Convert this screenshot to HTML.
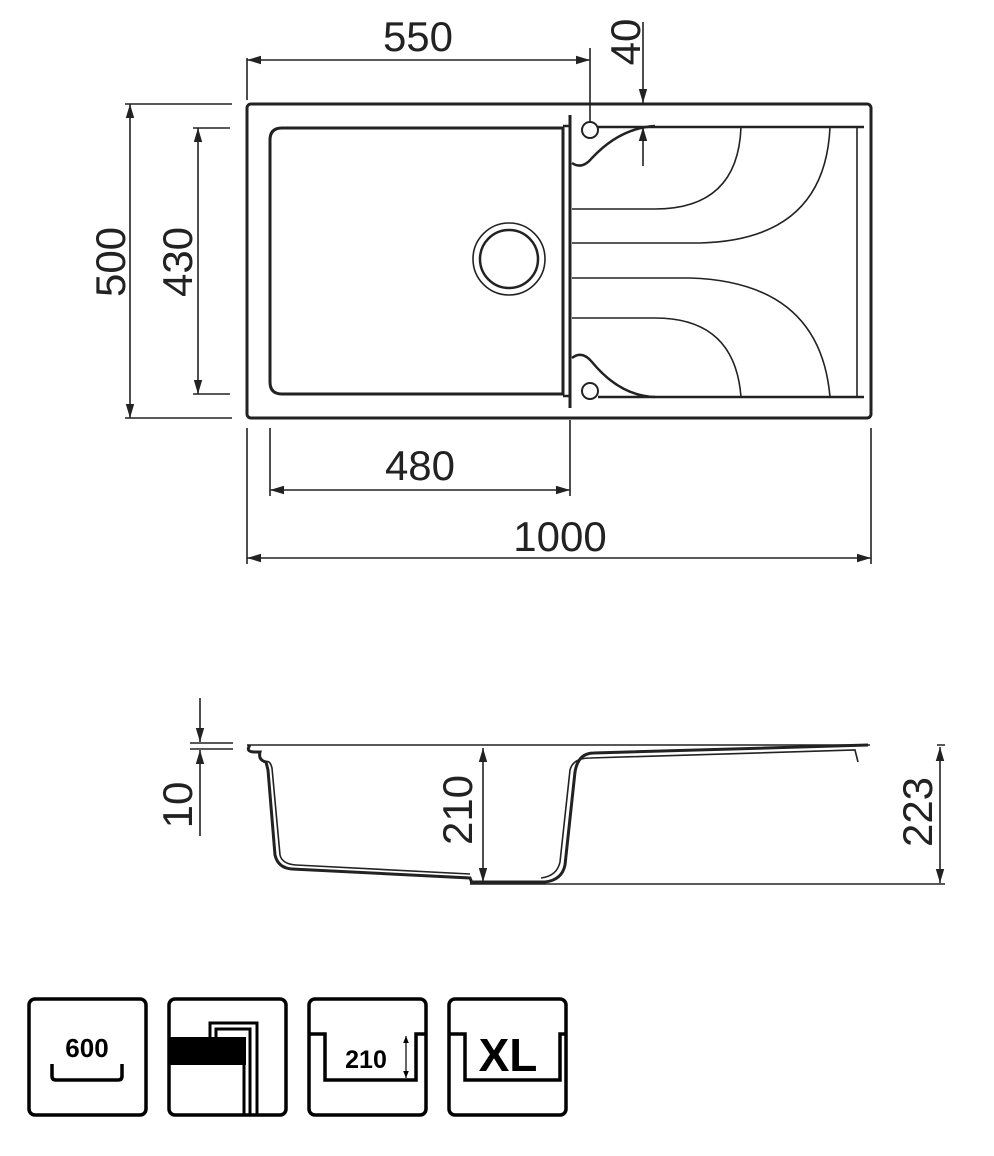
<!DOCTYPE html>
<html><head><style>body{margin:0;background:#fff}svg{display:block}</style></head><body>
<svg width="994" height="1156" viewBox="0 0 994 1156" xmlns="http://www.w3.org/2000/svg" font-family="Liberation Sans, sans-serif">
<defs>
<marker id="a" viewBox="0 0 10 10" refX="10" refY="5" markerWidth="14" markerHeight="14" markerUnits="userSpaceOnUse" orient="auto-start-reverse"><path d="M0,2 L10,5 L0,8z" fill="#222"/></marker>
<marker id="b" viewBox="0 0 10 10" refX="10" refY="5" markerWidth="7" markerHeight="7" markerUnits="userSpaceOnUse" orient="auto-start-reverse"><path d="M0,1 L10,5 L0,9z" fill="#000"/></marker>
</defs>
<g stroke="#222" fill="none" stroke-width="1.6">
<rect x="247" y="104" width="624" height="314" rx="4" stroke-width="3"/>
<path d="M282,128 H563 V394 H282 Q270,394 270,382 V140 Q270,128 282,128Z" stroke-width="3"/>
<line x1="570" y1="115" x2="570" y2="408" stroke-width="3"/>
<circle cx="509" cy="259" r="36"/><circle cx="509" cy="259" r="29" stroke-width="2.5"/>
<circle cx="590" cy="130" r="8" stroke-width="2"/><circle cx="590" cy="391" r="8" stroke-width="2"/>
<path d="M570,126 H563 M598,127 H864" stroke-width="2.5"/>
<path d="M570,396 H563 M598,397 H864" stroke-width="2.5"/>
<path d="M572,163 Q582,170 592,158 Q620,128 655,126" stroke-width="2.5"/>
<path d="M572,358 Q582,350 592,362 Q620,396 655,397" stroke-width="2.5"/>
<path d="M572,209 H655 Q738,209 741,127"/>
<path d="M572,243 H700 Q825,240 830,127"/>
<path d="M572,278 H690 Q820,282 830,397"/>
<path d="M572,318 H655 Q735,318 741,397"/>
<line x1="857" y1="127" x2="857" y2="397"/>
<path d="M247,100 V58 M590,122 V48 M125,104 H232 M125,418 H232 M193,128 H230 M193,394 H230 M270,428 V496 M570,420 V496 M247,428 V564 M871,428 V564"/>
<line x1="247" y1="60" x2="590" y2="60" marker-start="url(#a)" marker-end="url(#a)"/>
<line x1="643" y1="22" x2="643" y2="103" marker-end="url(#a)"/>
<line x1="643" y1="166" x2="643" y2="127" marker-end="url(#a)"/>
<line x1="130" y1="104" x2="130" y2="418" marker-start="url(#a)" marker-end="url(#a)"/>
<line x1="198" y1="128" x2="198" y2="394" marker-start="url(#a)" marker-end="url(#a)"/>
<line x1="270" y1="490" x2="570" y2="490" marker-start="url(#a)" marker-end="url(#a)"/>
<line x1="247" y1="558" x2="871" y2="558" marker-start="url(#a)" marker-end="url(#a)"/>
<path d="M247,745 H870 M470,884 H945 M937,745 H945"/>
<path d="M250,745 Q245,752 255,752 L260,752 Q258,760 266,762 L268,770 L275,855 Q278,868 292,869 L470,878 L472,883" stroke-width="3"/>
<path d="M266,762 Q270,760 272,768 L280,855 Q282,864 296,865 L470,874"/>
<path d="M470,882 H545 Q562,880 565,865 L575,772 Q578,753 594,753 L868,745" stroke-width="3"/>
<path d="M541,878 Q557,876 560,862 L570,770 Q573,758 590,758 L855,750 L858,762"/>
<line x1="483" y1="748" x2="483" y2="882" marker-start="url(#a)" marker-end="url(#a)"/>
<line x1="940" y1="747" x2="940" y2="883" marker-start="url(#a)" marker-end="url(#a)"/>
<path d="M190,743 H233 M190,749 H233"/>
<line x1="200" y1="698" x2="200" y2="742" marker-end="url(#a)"/>
<line x1="200" y1="836" x2="200" y2="750" marker-end="url(#a)"/>
</g>
<g fill="#222" font-size="42">
<text x="418" y="51" text-anchor="middle">550</text>
<text transform="translate(640,42) rotate(-90)" text-anchor="middle">40</text>
<text transform="translate(125,262) rotate(-90)" text-anchor="middle">500</text>
<text transform="translate(192,262) rotate(-90)" text-anchor="middle">430</text>
<text x="420" y="480" text-anchor="middle">480</text>
<text x="560" y="551" text-anchor="middle">1000</text>
<text transform="translate(192,805) rotate(-90)" text-anchor="middle">10</text>
<text transform="translate(472,810) rotate(-90)" text-anchor="middle">210</text>
<text transform="translate(932,812) rotate(-90)" text-anchor="middle">223</text>
</g>
<g stroke="#000" stroke-width="3.5" fill="none">
<rect x="29" y="999" width="117" height="116" rx="6"/>
<rect x="169" y="999" width="117" height="116" rx="6"/>
<rect x="309" y="999" width="117" height="116" rx="6"/>
<rect x="449" y="999" width="117" height="116" rx="6"/>
<path d="M52,1064 V1076 Q52,1080 56,1080 H118 Q122,1080 122,1076 V1064"/>
<path d="M210,1037 V1023 H257 V1115 M216,1037 V1029 H250 V1115 M244,1064 V1115" stroke-width="3"/>
<path d="M309,1034 H325 V1080 H416 V1034 H426" stroke-width="3.5"/>
<path d="M449,1034 H465 V1080 H560 V1034 H566" stroke-width="3.5"/>
<line x1="406" y1="1036" x2="406" y2="1078" stroke-width="1.2" marker-start="url(#b)" marker-end="url(#b)"/>
</g>
<rect x="169" y="1037" width="77" height="28" fill="#000"/>
<g font-weight="bold" fill="#000" font-family="Liberation Sans, sans-serif">
<text x="87" y="1057" text-anchor="middle" font-size="26">600</text>
<text x="366" y="1068" text-anchor="middle" font-size="25">210</text>
<text x="508" y="1071" text-anchor="middle" font-size="46">XL</text>
</g>
</svg>
</body></html>
